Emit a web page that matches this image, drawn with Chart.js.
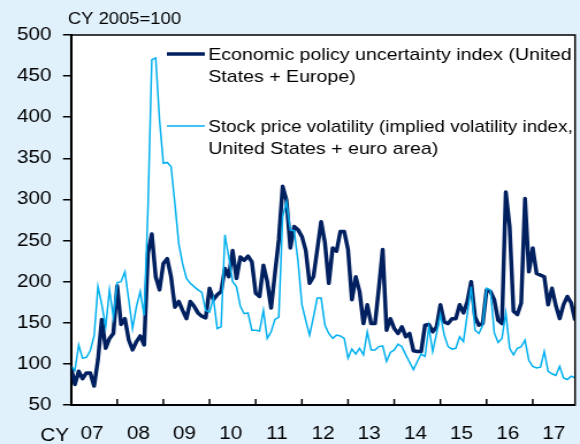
<!DOCTYPE html>
<html>
<head>
<meta charset="utf-8">
<script src="https://cdn.jsdelivr.net/npm/chart.js@4.4.1/dist/chart.umd.min.js"></script>
<style>
  html, body { margin: 0; padding: 0; background: #e0f1fc; overflow: hidden; }
  /* chart is drawn narrow and stretched sideways, like the printed version */
  #wrap { position: relative; width: 504px; height: 444px; transform: scaleX(1.1508); transform-origin: 0 0; }
</style>
</head>
<body>
<div id="wrap"><canvas id="uncChart"></canvas></div>
<script>
const startYear = 2007;
const yearLabels = ["07", "08", "09", "10", "11", "12", "13", "14", "15", "16", "17"];
const yTicks = [50, 100, 150, 200, 250, 300, 350, 400, 450, 500];

// monthly, Jan 2007 - Dec 2017, CY 2005=100
const policyUncertainty = [
  96, 75, 91, 82, 89, 89, 73, 105, 154, 119, 131, 137,
  195, 148, 155, 129, 117, 127, 134, 123, 235, 258, 206, 190,
  222, 228, 206, 169, 176, 165, 155, 176, 170, 162, 158, 156,
  192, 178, 184, 188, 216, 206, 238, 204, 230, 226, 231, 224,
  186, 182, 220, 200, 168, 210, 251, 316, 299, 241, 267, 263,
  255, 238, 198, 206, 239, 273, 247, 198, 241, 237, 261, 261,
  239, 178, 206, 188, 149, 172, 149, 149, 192, 239, 141, 155,
  143, 137, 145, 133, 137, 116, 115, 115, 147, 148, 139, 145,
  172, 151, 149, 155, 155, 172, 162, 176, 200, 157, 147, 149,
  190, 188, 178, 153, 149, 309, 267, 164, 160, 174, 301, 212,
  241, 210, 208, 206, 172, 192, 171, 155, 172, 182, 174, 153
];
const stockVolatility = [
  97, 92, 123, 107, 108, 116, 134, 194, 172, 145, 190, 157,
  199, 200, 212, 178, 143, 170, 188, 159, 290, 470, 472, 397,
  344, 345, 340, 295, 246, 222, 204, 198, 194, 190, 187, 165,
  163, 180, 143, 145, 257, 230, 200, 194, 170, 161, 162, 141,
  141, 140, 165, 131, 139, 154, 157, 279, 297, 263, 262, 225,
  172, 153, 135, 157, 180, 180, 147, 137, 131, 135, 134, 131,
  107, 118, 112, 119, 111, 139, 117, 117, 121, 122, 103, 114,
  117, 124, 121, 111, 102, 93, 103, 112, 109, 145, 115, 137,
  160, 135, 121, 118, 119, 133, 127, 161, 194, 141, 137, 147,
  192, 190, 138, 126, 131, 162, 119, 111, 119, 121, 129, 104,
  97, 95, 96, 115, 91, 88, 86, 97, 83, 81, 85, 83
];
const legendLines = [
  ["Economic policy uncertainty index (United", "States + Europe)"],
  ["Stock price volatility (implied volatility index,", "United States + euro area)"]
];

const darkBlue = "#002060";
const lightBlue = "#00b0f0";
const fontFamily = "'Liberation Sans', Arial, sans-serif";
const toPoints = (arr) => arr.map((v, i) => ({ x: i, y: v }));

// white plot box, frame, inward year ticks, legend and the small labels
const plotFrame = {
  id: "plotFrame",
  beforeDraw(chart) {
    const { ctx, chartArea: a } = chart;
    ctx.save();
    ctx.fillStyle = "#ffffff";
    ctx.fillRect(a.left, a.top, a.right - a.left, a.bottom - a.top);
    ctx.restore();
  },
  afterDraw(chart) {
    const { ctx, chartArea: a } = chart;
    const xs = chart.scales.x;
    ctx.save();
    ctx.strokeStyle = "#000";
    ctx.lineWidth = 1.5;
    ctx.strokeRect(a.left, a.top, a.right - a.left, a.bottom - a.top);

    // year boundaries
    for (let i = 1; i < yearLabels.length; i++) {
      const px = xs.getPixelForValue(i * 12);
      ctx.beginPath();
      ctx.moveTo(px, a.bottom);
      ctx.lineTo(px, a.bottom - 6);
      ctx.stroke();
    }

    ctx.fillStyle = "#000";
    ctx.textBaseline = "alphabetic";
    ctx.textAlign = "left";
    ctx.font = "16px " + fontFamily;
    ctx.fillText("CY 2005=100", 59, 24);
    ctx.font = "18px " + fontFamily;
    ctx.fillText("CY", 35, 440.5);

    // legend
    const entries = [
      { ds: chart.data.datasets[0], y: 54, text: legendLines[0] },
      { ds: chart.data.datasets[1], y: 126, text: legendLines[1] }
    ];
    const textX = 181;
    const maxW = a.right - textX - 2;
    ctx.font = "17px " + fontFamily;
    entries.forEach((e) => {
      ctx.strokeStyle = e.ds.borderColor;
      ctx.lineWidth = e.ds.borderWidth;
      ctx.beginPath();
      ctx.moveTo(145, e.y);
      ctx.lineTo(178, e.y);
      ctx.stroke();
      e.text.forEach((t, k) => ctx.fillText(t, textX, e.y + 6 + k * 22, maxW));
    });
    ctx.restore();
  }
};

const uncChart = new Chart(document.getElementById("uncChart").getContext("2d"), {
  type: "line",
  data: {
    datasets: [
      {
        label: "Economic policy uncertainty index",
        data: toPoints(policyUncertainty),
        borderColor: darkBlue,
        borderWidth: 3.5,
        pointRadius: 0,
        borderJoinStyle: "round",
        tension: 0,
        order: 1
      },
      {
        label: "Stock price volatility",
        data: toPoints(stockVolatility),
        borderColor: lightBlue,
        borderWidth: 1.5,
        pointRadius: 0,
        tension: 0,
        order: 0
      }
    ]
  },
  options: {
    responsive: true,
    maintainAspectRatio: false,
    animation: false,
    events: [],
    layout: { padding: { top: 35, right: 4.3, left: 0, bottom: 0 } },
    plugins: { legend: { display: false }, tooltip: { enabled: false } },
    scales: {
      x: {
        type: "linear",
        min: 0,
        max: policyUncertainty.length - 1,
        afterBuildTicks: (scale) => {
          scale.ticks = yearLabels.map((_, i) => ({ value: i * 12 + 5.5 }));
        },
        afterFit: (scale) => {
          scale.height = 39;
          // labels sit mid-year, no room needed at the ends
          scale.paddingLeft = 0;
          scale.paddingRight = 0;
        },
        ticks: {
          autoSkip: false,
          maxRotation: 0,
          padding: 18,
          color: "#000",
          font: { family: fontFamily, size: 18 },
          callback: (value, index) => yearLabels[index]
        },
        grid: { drawOnChartArea: false, drawTicks: false },
        border: { color: "#000", width: 2 }
      },
      y: {
        min: 50,
        max: 500,
        afterBuildTicks: (scale) => {
          scale.ticks = yTicks.map((v) => ({ value: v }));
        },
        afterFit: (scale) => {
          scale.width = 61.7;
          scale.paddingTop = 0;
          scale.paddingBottom = 0;
        },
        ticks: {
          padding: 10,
          color: "#000",
          font: { family: fontFamily, size: 18 }
        },
        grid: { drawOnChartArea: false, drawTicks: true, tickLength: 7, color: "#000", lineWidth: 1.5 },
        border: { color: "#000", width: 2 }
      }
    }
  },
  plugins: [plotFrame]
});
</script>
</body>
</html>
